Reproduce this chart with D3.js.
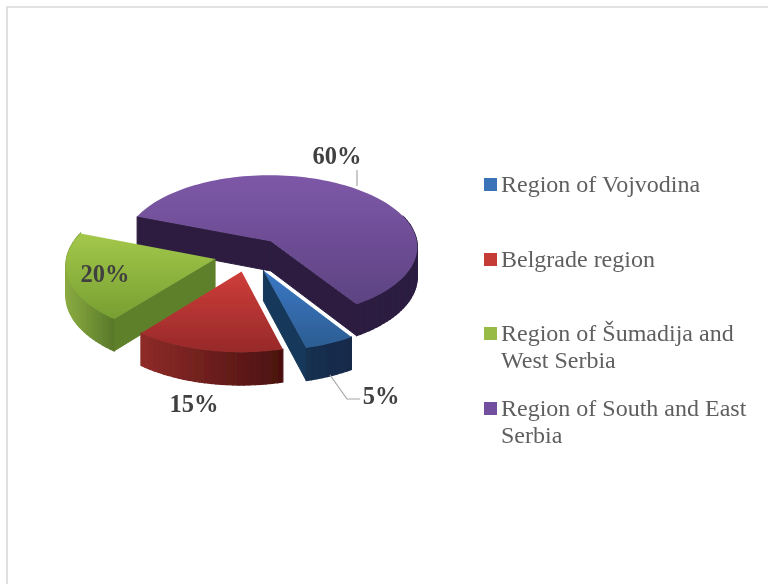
<!DOCTYPE html>
<html><head><meta charset="utf-8">
<script src="https://cdnjs.cloudflare.com/ajax/libs/d3/7.8.5/d3.min.js"></script>
<style>html,body{margin:0;padding:0;background:#fff}svg{display:block}</style>
</head><body><div id="c"></div>
<script>
const categories = ["Region of Vojvodina","Belgrade region","Region of Šumadija and|West Serbia","Region of South and East|Serbia"];
const shares = [5,15,20,60];
const valueLabels = ["5%","15%","20%","60%"];
const topLight = ["#3b78c6","#cf3d39","#a3c84a","#7e58a8"];
const topDark = ["#2c5d92","#97292a","#779f32","#5d4382"];
const wallLeft = ["#14304f","#8e2b28","#8aab41","#2d1f41"];
const wallRight = ["#14294a","#4a1110","#587829","#2d1f41"];
const sideWall = ["#17385a","#5a1614","#5f8029","#2d1f41"];
const legendSwatch = ["#3a73b8","#c53a36","#97bb45","#7350a0"];

const W=768,H=584;
const svg=d3.select("#c").append("svg").attr("width",W).attr("height",H);
const defs=svg.append("defs");
defs.append("filter").attr("id","soft").append("feGaussianBlur").attr("stdDeviation",0.6);
defs.append("filter").attr("id","softText").append("feGaussianBlur").attr("stdDeviation",0.35);

svg.append("path").attr("d",`M7 ${H}V7H${W}`).attr("fill","none").attr("stroke","#d9d9d9").attr("stroke-width",1.6);

const toRad=d=>d*Math.PI/180;
const pie=d3.pie().sort(null).startAngle(toRad(147)).endAngle(toRad(507));
const arcs=pie(shares);
const R=148,cx=249,cy=254.5,tilt=0.49,persp=0.07,depth=30,explode=35;
function proj(u,v,z){const f=1/(1-persp*v/R);return [cx+u*f,cy+v*tilt*f+z*f];}
function slicePoint(a,mid,r,z){
  const u=explode*Math.sin(mid)+r*Math.sin(a), v=-explode*Math.cos(mid)-r*Math.cos(a);
  return proj(u,v,z);
}
const line=d3.line();
const g=svg.append("g").attr("filter","url(#soft)");

// painter's order: purple, green, red, blue
[3,2,1,0].forEach(i=>{
  const d=arcs[i],mid=(d.startAngle+d.endAngle)/2;
  const n=Math.max(8,Math.round((d.endAngle-d.startAngle)/toRad(2)));
  const angles=d3.range(n+1).map(k=>d.startAngle+(d.endAngle-d.startAngle)*k/n);
  const topArc=angles.map(a=>slicePoint(a,mid,R,0));
  const apex=slicePoint(0,mid,0,0),apexB=slicePoint(0,mid,0,depth);
  const xs=d3.extent(topArc,p=>p[0]);
  const shade=d3.scaleLinear().domain(xs).range([wallLeft[i],wallRight[i]]);
  // radial walls that face the viewer
  [[d.startAngle,d.startAngle-Math.PI/2],[d.endAngle,d.endAngle+Math.PI/2]].forEach(([a,normal])=>{
    if(-Math.cos(normal)>0){
      const o=slicePoint(a,mid,R,0),oB=slicePoint(a,mid,R,depth);
      g.append("path").attr("d",line([apex,o,oB,apexB])+"Z").attr("fill",sideWall[i]).attr("stroke",sideWall[i]).attr("stroke-width",1);
    }
  });
  // outer wall
  for(let k=0;k<n;k++){
    const a0=angles[k],a1=angles[k+1];
    if(-Math.cos((a0+a1)/2)<-0.35) continue;
    const p0=slicePoint(a0,mid,R,0),p1=slicePoint(a1,mid,R,0),q1=slicePoint(a1,mid,R,depth),q0=slicePoint(a0,mid,R,depth);
    const col=shade((p0[0]+p1[0])/2);
    g.append("path").attr("d",line([p0,p1,q1,q0])+"Z").attr("fill",col).attr("stroke",col).attr("stroke-width",1.2);
  }
  // top face
  const gid="top"+i;
  const lg=defs.append("linearGradient").attr("id",gid).attr("x1",0).attr("y1",0).attr("x2",0).attr("y2",1);
  lg.append("stop").attr("offset","0%").attr("stop-color",topLight[i]);
  lg.append("stop").attr("offset","100%").attr("stop-color",topDark[i]);
  g.append("path").attr("d",line([apex,...topArc])+"Z").attr("fill",`url(#${gid})`);
});

// leader lines
const lead=svg.append("g").attr("fill","none").attr("stroke","#a6a6a6").attr("stroke-width",1.2);
lead.append("path").attr("d",line([[357,170],[357,186]]));
lead.append("path").attr("d",line([[330,375],[347,399],[360,399]]));

// value labels
const labelPos=[[381,404],[194,412],[105,282],[337,164]];
svg.append("g").attr("filter","url(#softText)").selectAll("text").data(valueLabels).join("text")
  .attr("x",(d,i)=>labelPos[i][0]).attr("y",(d,i)=>labelPos[i][1])
  .attr("text-anchor","middle").attr("font-family","'Liberation Serif'").attr("font-weight","bold")
  .attr("font-size",24.5).attr("fill","#404040").text(d=>d);

// legend
const baselines=[192,267,341,416];
const lg=svg.append("g").attr("filter","url(#softText)");
categories.forEach((c,i)=>{
  lg.append("rect").attr("x",484).attr("y",baselines[i]-14).attr("width",13).attr("height",13).attr("fill",legendSwatch[i]);
  c.split("|").forEach((t,j)=>{
    lg.append("text").attr("x",501).attr("y",baselines[i]+j*27).attr("font-family","'Liberation Serif'")
      .attr("font-size",24).attr("fill","#5f5f5f").text(t);
  });
});
</script></body></html>
